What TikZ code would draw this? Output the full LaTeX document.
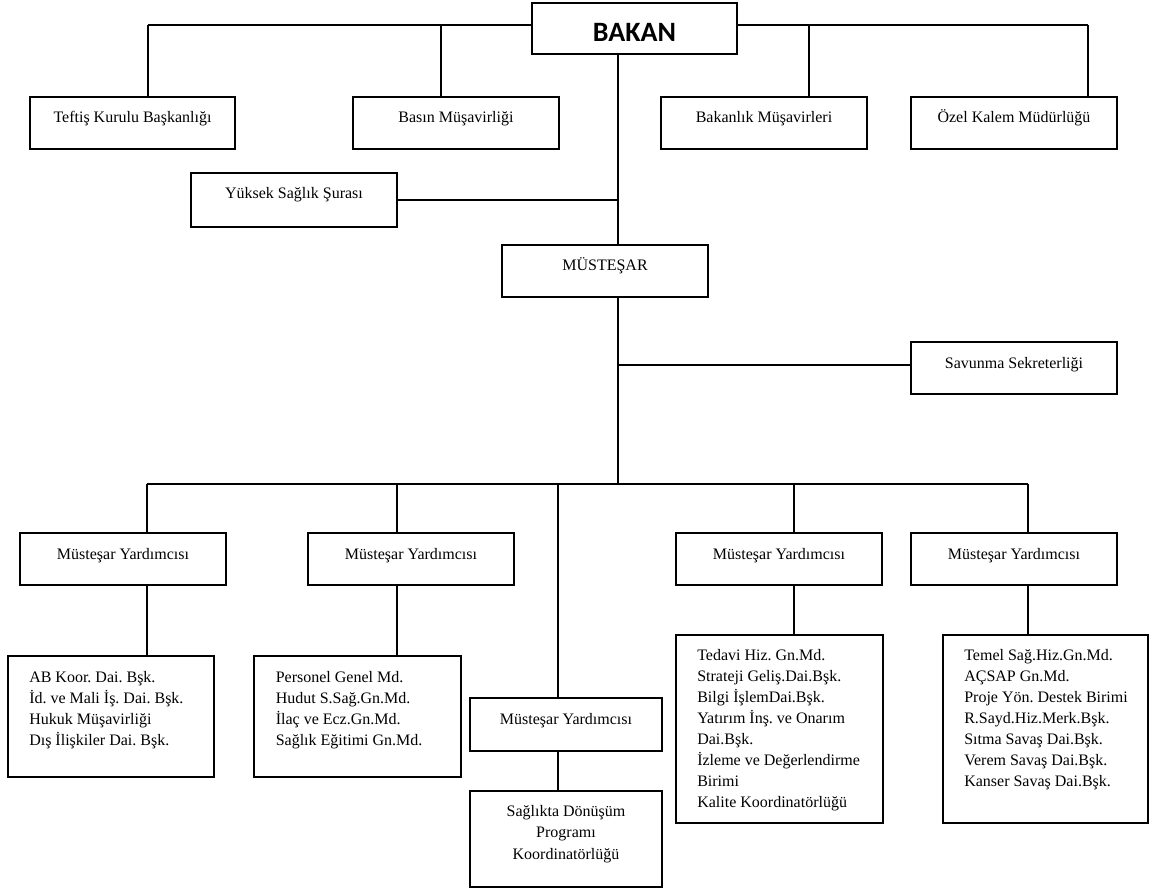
\documentclass[tikz,border=0pt]{standalone}
\usepackage{fontspec}
\setmainfont{Liberation Serif}
\newfontfamily\calibrifont{Carlito}
\frenchspacing
\begin{document}
\begin{tikzpicture}[x=0.75pt,y=-0.75pt,
  box/.style 2 args={draw, line width=1.6pt, fill=white, inner sep=0pt, rectangle,
     minimum width=#1*0.75pt, minimum height=#2*0.75pt},
  conn/.style={line width=1.5pt},
  lbl/.style={inner sep=0pt, font=\fontsize{12pt}{15.75pt}\selectfont},
  lst/.style={inner sep=0pt, align=left, font=\fontsize{12pt}{15.75pt}\selectfont},
  ctr/.style={inner sep=0pt, align=center, font=\fontsize{12pt}{16.1pt}\selectfont}]
\useasboundingbox (0,0) rectangle (1149,891);

% ---- boxes ----
\node[box={205}{51}] (bakan) at (634.5,28.5) {};
\node[box={205}{52}] (teftis) at (132.5,123) {};
\node[box={206}{52}] (basin) at (456,123) {};
\node[box={206}{52}] (bakanlik) at (764,123) {};
\node[box={206}{52}] (ozel) at (1014,123) {};
\node[box={206}{54}] (yuksek) at (294,200) {};
\node[box={206}{52}] (mustesar) at (605,271) {};
\node[box={206}{52}] (savunma) at (1014,368) {};
\node[box={206}{52}] (my1) at (123,559) {};
\node[box={206}{52}] (my2) at (411,559) {};
\node[box={192}{53}] (my3) at (566,724.5) {};
\node[box={206}{52}] (my4) at (779,559) {};
\node[box={206}{52}] (my5) at (1014,559) {};
\node[box={206}{121}] (ab) at (111,716.5) {};
\node[box={207}{121}] (personel) at (357.5,716.5) {};
\node[box={207}{188}] (tedavi) at (779.5,729) {};
\node[box={205}{188}] (temel) at (1045.5,729) {};
\node[box={192}{96}] (saglikta) at (566,839) {};

% ---- texts ----
\node[inner sep=0pt, anchor=base, font=\calibrifont\bfseries\fontsize{21pt}{24pt}\selectfont] (bakan-t) at (634.5,41.5) {BAKAN};
\node[lbl, anchor=base] (teftis-t) at (132.5,123) {Teftiş Kurulu Başkanlığı};
\node[lbl, anchor=base] (basin-t) at (456,123) {Basın Müşavirliği};
\node[lbl, anchor=base] (bakanlik-t) at (764,123) {Bakanlık Müşavirleri};
\node[lbl, anchor=base] (ozel-t) at (1014,123) {Özel Kalem Müdürlüğü};
\node[lbl, anchor=base] (yuksek-t) at (294,199) {Yüksek Sağlık Şurası};
\node[lbl, anchor=base] (mustesar-t) at (605,271) {MÜSTEŞAR};
\node[lbl, anchor=base] (savunma-t) at (1014,368) {Savunma Sekreterliği};
\node[lbl, anchor=base] (my1-t) at (123,559) {Müsteşar Yardımcısı};
\node[lbl, anchor=base] (my2-t) at (411,559) {Müsteşar Yardımcısı};
\node[lbl, anchor=base] (my3-t) at (566,724) {Müsteşar Yardımcısı};
\node[lbl, anchor=base] (my4-t) at (779,559) {Müsteşar Yardımcısı};
\node[lbl, anchor=base] (my5-t) at (1014,559) {Müsteşar Yardımcısı};
\node[lst, anchor=north west] (ab-t) at (29,671) {AB Koor. Dai. Bşk.\\İd. ve Mali İş. Dai. Bşk.\\Hukuk Müşavirliği\\Dış İlişkiler Dai. Bşk.};
\node[lst, anchor=north west] (personel-t) at (275.5,671) {Personel Genel Md.\\Hudut S.Sağ.Gn.Md.\\İlaç ve Ecz.Gn.Md.\\Sağlık Eğitimi Gn.Md.};
\node[lst, anchor=north west] (tedavi-t) at (697,649) {Tedavi Hiz. Gn.Md.\\Strateji Geliş.Dai.Bşk.\\Bilgi İşlemDai.Bşk.\\Yatırım İnş. ve Onarım\\Dai.Bşk.\\İzleme ve Değerlendirme\\Birimi\\Kalite Koordinatörlüğü};
\node[lst, anchor=north west] (temel-t) at (964,649) {Temel Sağ.Hiz.Gn.Md.\\AÇSAP Gn.Md.\\Proje Yön. Destek Birimi\\R.Sayd.Hiz.Merk.Bşk.\\Sıtma Savaş Dai.Bşk.\\Verem Savaş Dai.Bşk.\\Kanser Savaş Dai.Bşk.};
\node[ctr, anchor=north] (saglikta-t) at (566,805) {Sağlıkta Dönüşüm\\Programı\\Koordinatörlüğü};

% ---- junction coordinates ----
\coordinate (t1) at (148,25);
\coordinate (t2) at (441,25);
\coordinate (t3) at (809,25);
\coordinate (t4) at (1088,25);
\coordinate (spine) at (618,200);
\coordinate (sav) at (618,365);
\coordinate (b1) at (147,484);
\coordinate (b2) at (397,484);
\coordinate (b3) at (558,484);
\coordinate (bm) at (618,484);
\coordinate (b4) at (794,484);
\coordinate (b5) at (1028,484);

% ---- connectors ----
\draw[conn] (t1) -- (t1 -| bakan.west);
\draw[conn] (t4) -- (t4 -| bakan.east);
\draw[conn] (t1) -- (t1 |- teftis.north);
\draw[conn] (t2) -- (t2 |- basin.north);
\draw[conn] (t3) -- (t3 |- bakanlik.north);
\draw[conn] (t4) -- (t4 |- ozel.north);
\draw[conn] (spine |- bakan.south) -- (spine |- mustesar.north);
\draw[conn] (yuksek.east) -- (spine);
\draw[conn] (spine |- mustesar.south) -- (bm);
\draw[conn] (sav) -- (sav -| savunma.west);
\draw[conn] (b1) -- (b5);
\draw[conn] (b1) -- (b1 |- my1.north);
\draw[conn] (b2) -- (b2 |- my2.north);
\draw[conn] (b3) -- (b3 |- my3.north);
\draw[conn] (b4) -- (b4 |- my4.north);
\draw[conn] (b5) -- (b5 |- my5.north);
\draw[conn] (b1 |- my1.south) -- (b1 |- ab.north);
\draw[conn] (b2 |- my2.south) -- (b2 |- personel.north);
\draw[conn] (b3 |- my3.south) -- (b3 |- saglikta.north);
\draw[conn] (b4 |- my4.south) -- (b4 |- tedavi.north);
\draw[conn] (b5 |- my5.south) -- (b5 |- temel.north);
\end{tikzpicture}
\end{document}
